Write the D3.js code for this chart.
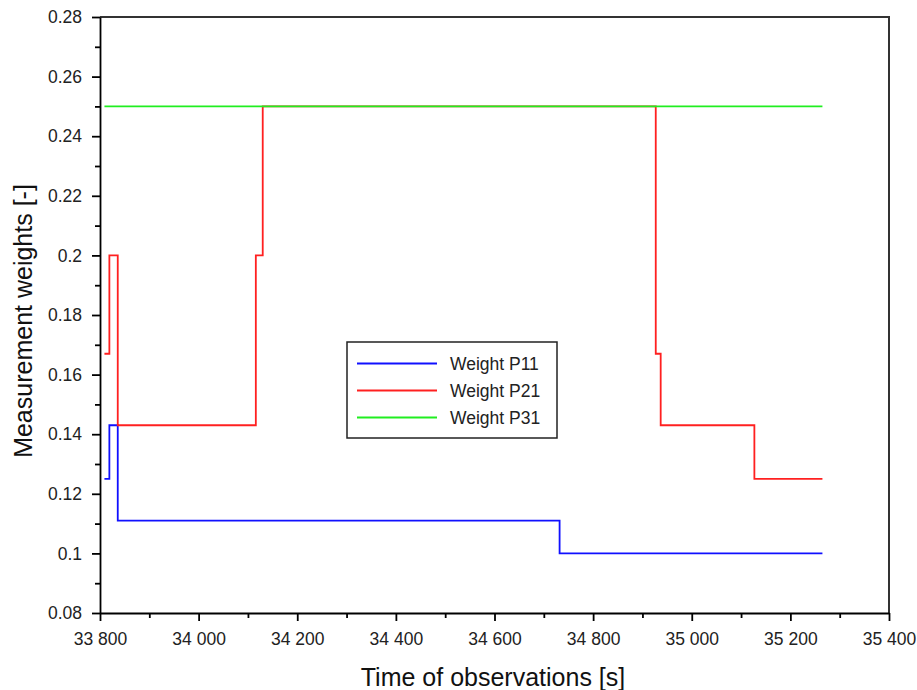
<!DOCTYPE html>
<html>
<head>
<meta charset="utf-8">
<script src="https://cdn.jsdelivr.net/npm/d3@7"></script>
<style>
  html, body { margin: 0; padding: 0; background: #fff; }
  svg { display: block; font-family: "Liberation Sans", Arial, sans-serif; }
</style>
</head>
<body>
<svg id="chart" width="917" height="690"></svg>
<script>
// Step-wise measurement weights over observation time
const timesP11 = [33809, 33819, 33836, 34732, 35265];
const weightsP11 = [0.125, 0.143, 0.111, 0.1, 0.1];

const timesP21 = [33809, 33819, 33836, 34116, 34130, 34927, 34937, 35127, 35265];
const weightsP21 = [0.167, 0.2, 0.143, 0.2, 0.25, 0.167, 0.143, 0.125, 0.125];

const timesP31 = [33809, 35265];
const weightsP31 = [0.25, 0.25];

const seriesNames = ["Weight P11", "Weight P21", "Weight P31"];
const seriesColors = ["#1010ff", "#ff2020", "#20ee20"];

const xTicks = [33800, 34000, 34200, 34400, 34600, 34800, 35000, 35200, 35400];
const yTicks = [0.08, 0.1, 0.12, 0.14, 0.16, 0.18, 0.2, 0.22, 0.24, 0.26, 0.28];

(function () {
  const svg = d3.select("#chart");
  const mLeft = 100, mRight = 889, mTop = 17, mBottom = 613;

  const x = d3.scaleLinear().domain([33800, 35400]).range([mLeft, mRight]);
  const y = d3.scaleLinear().domain([0.08, 0.28]).range([mBottom, mTop]);

  const fmtX = v => d3.format(",")(v).replace(",", " ");
  const fmtY = v => String(+v.toFixed(2));

  // Frame: top and right edges
  svg.append("path")
    .attr("d", `M${mLeft},${mTop}H${mRight}V${mBottom}`)
    .attr("fill", "none").attr("stroke", "#333").attr("stroke-width", 2);

  // X axis with major and minor ticks
  const xMinor = d3.range(33800, 35401, 100).filter(v => v % 200 !== 0);
  const xAxisG = svg.append("g").attr("transform", `translate(0,${mBottom})`);
  xAxisG.call(d3.axisBottom(x).tickValues(xTicks).tickFormat(fmtX).tickSize(8).tickSizeOuter(0));
  xAxisG.append("g").call(d3.axisBottom(x).tickValues(xMinor).tickFormat("").tickSize(5).tickSizeOuter(0))
    .select(".domain").remove();
  xAxisG.selectAll("text").attr("font-size", 17.5).attr("fill", "#222").attr("dy", "1.2em");

  // Y axis with major and minor ticks
  const yMinor = d3.range(0.09, 0.28, 0.02);
  const yAxisG = svg.append("g").attr("transform", `translate(${mLeft},0)`);
  yAxisG.call(d3.axisLeft(y).tickValues(yTicks).tickFormat(fmtY).tickSize(8).tickSizeOuter(0));
  yAxisG.append("g").call(d3.axisLeft(y).tickValues(yMinor).tickFormat("").tickSize(5).tickSizeOuter(0))
    .select(".domain").remove();
  yAxisG.selectAll("text").attr("font-size", 17.5).attr("fill", "#222").attr("dx", -7);

  svg.selectAll(".domain, .tick line").attr("stroke", "#000").attr("stroke-width", 1.8);

  // Axis titles
  svg.append("text")
    .attr("x", 493).attr("y", 686)
    .attr("text-anchor", "middle").attr("font-size", 25).attr("fill", "#111")
    .text("Time of observations [s]");
  svg.append("text")
    .attr("transform", `translate(32,321) rotate(-90)`)
    .attr("text-anchor", "middle").attr("font-size", 25).attr("fill", "#111")
    .text("Measurement weights [-]");

  // Step lines
  const series = [
    { t: timesP11, w: weightsP11 },
    { t: timesP21, w: weightsP21 },
    { t: timesP31, w: weightsP31 }
  ];
  const line = d3.line().x(d => x(d[0])).y(d => y(d[1])).curve(d3.curveStepAfter);
  series.forEach((s, i) => {
    svg.append("path")
      .datum(s.t.map((t, j) => [t, s.w[j]]))
      .attr("d", line)
      .attr("fill", "none")
      .attr("stroke", seriesColors[i])
      .attr("stroke-width", 1.8);
  });

  // Legend
  const lg = svg.append("g").attr("transform", "translate(347,342)");
  lg.append("rect").attr("width", 210).attr("height", 96)
    .attr("fill", "#fff").attr("stroke", "#222").attr("stroke-width", 1.5);
  seriesNames.forEach((name, i) => {
    const yy = 21.5 + i * 27;
    lg.append("line").attr("x1", 10).attr("x2", 90).attr("y1", yy).attr("y2", yy)
      .attr("stroke", seriesColors[i]).attr("stroke-width", 1.8);
    lg.append("text").attr("x", 103).attr("y", yy + 6).attr("font-size", 17.5).attr("fill", "#222").text(name);
  });
})();
</script>
</body>
</html>
